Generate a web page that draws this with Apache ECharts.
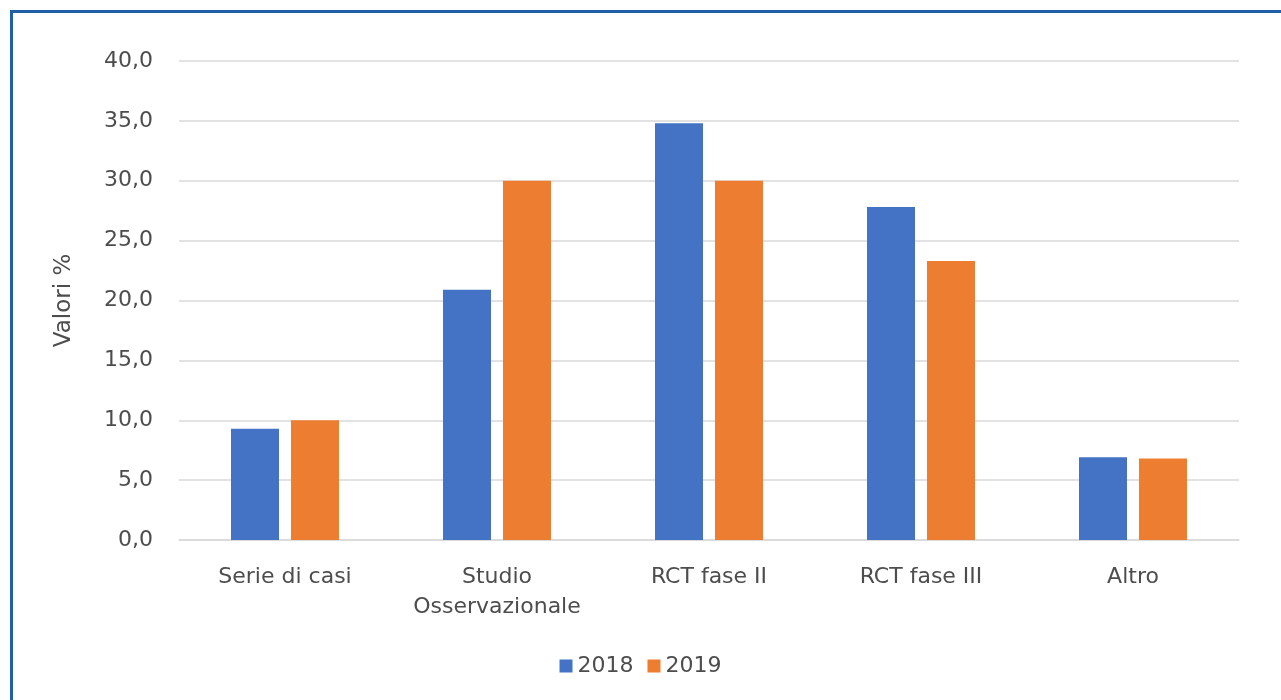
<!DOCTYPE html>
<html>
<head>
<meta charset="utf-8">
<script src="https://cdn.jsdelivr.net/npm/echarts@6/dist/echarts.min.js"></script>
<style>
  html, body { margin: 0; padding: 0; background: #ffffff; }
  #frame {
    position: absolute; left: 10px; top: 10px; width: 1300px; height: 720px;
    border-left: 3px solid #1f5fa5; border-top: 3px solid #1f5fa5;
  }
  #chart { position: absolute; left: 0; top: 0; width: 1281px; height: 700px; }
</style>
</head>
<body>
<div id="frame"></div>
<div id="chart"></div>
<script>
// Study types and share of each, per year (%)
const categories = ['Serie di casi', 'Studio\nOsservazionale', 'RCT fase II', 'RCT fase III', 'Altro'];
const values2018 = [9.3, 20.9, 34.8, 27.8, 6.9];
const values2019 = [10.0, 30.0, 30.0, 23.3, 6.8];
const seriesNames = ['2018', '2019'];

const textColor = '#4d4d4d';
const fontFamily = '"DejaVu Sans", sans-serif';

const chart = echarts.init(document.getElementById('chart'));
chart.setOption({
  animation: false,
  color: ['#4472c4', '#ed7d31'],
  grid: { left: 179, right: 42, top: 61, bottom: 160 },
  legend: {
    data: seriesNames,
    top: 650,
    left: 'center',
    itemWidth: 13,
    itemHeight: 13,
    itemGap: 14,
    icon: 'rect',
    textStyle: { color: textColor, fontSize: 22, fontFamily: fontFamily, padding: [0, 0, 0, 0] }
  },
  xAxis: {
    type: 'category',
    data: categories,
    axisLine: { show: true, lineStyle: { color: '#d9d9d9', width: 1.5 } },
    axisTick: { show: false },
    axisLabel: {
      color: textColor, fontSize: 22, fontFamily: fontFamily,
      margin: 22, lineHeight: 30, interval: 0
    }
  },
  yAxis: {
    type: 'value',
    min: 0, max: 40, interval: 5,
    name: 'Valori %',
    nameLocation: 'middle',
    nameGap: 103,
    nameTextStyle: { color: textColor, fontSize: 23, fontFamily: fontFamily },
    axisLine: { show: false },
    axisTick: { show: false },
    splitLine: { lineStyle: { color: '#d9d9d9', width: 1.5 } },
    axisLabel: {
      color: textColor, fontSize: 22, fontFamily: fontFamily, margin: 26,
      formatter: v => v.toFixed(1).replace('.', ',')
    }
  },
  series: [
    { name: seriesNames[0], type: 'bar', data: values2018, barWidth: 48, barGap: '25%' },
    { name: seriesNames[1], type: 'bar', data: values2019, barWidth: 48, barGap: '25%' }
  ]
});
</script>
</body>
</html>
